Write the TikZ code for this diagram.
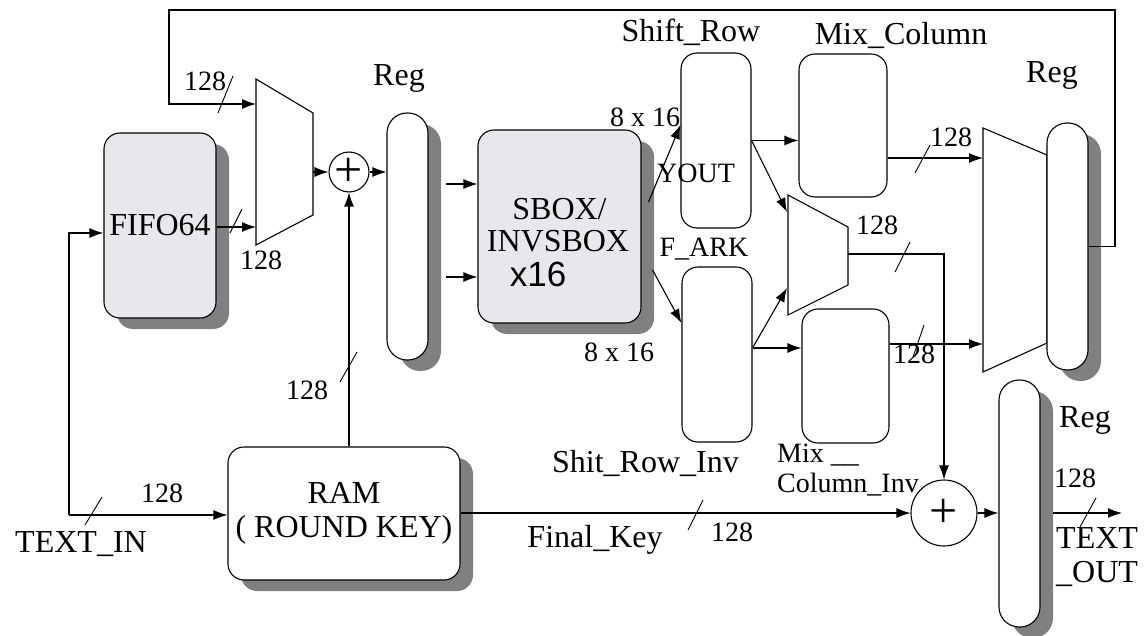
\documentclass[tikz,border=0pt]{standalone}
\usepackage{fontspec}
\setmainfont{Liberation Serif}
\newfontfamily\sboxsans{Liberation Sans}
\usepackage{tikz}
\usetikzlibrary{arrows.meta, calc, shadows}
\definecolor{boxgray}{RGB}{233,231,236}
\definecolor{shadegray}{RGB}{128,127,130}
\tikzset{
  unit/.style  = {rectangle, draw, line width=1.1pt, inner sep=0pt, rounded corners=16pt,
                  fill=white, font=\fontsize{32}{34}\selectfont},
  unitS/.style = {unit, drop shadow={shadow xshift=13pt, shadow yshift=-11pt,
                  fill=shadegray, opacity=1}},
  unitG/.style = {unitS, fill=boxgray},
  reg/.style   = {unitS, minimum width=41pt, minimum height=247pt, rounded corners=20pt},
  adder/.style = {circle, draw, line width=1.1pt, inner sep=0pt, fill=white,
                  font=\fontsize{50}{50}\selectfont},
  lbl/.style   = {inner sep=0pt, anchor=base, font=\fontsize{32}{34}\selectfont},
  num/.style   = {inner sep=0pt, anchor=base, font=\fontsize{28}{30}\selectfont},
  arrow/.style = {line width=1.1pt, -{Latex[length=14pt,width=10pt]}},
  wire/.style  = {line width=1.1pt},
  slash/.style = {line width=0.9pt},
}

\begin{document}
\begin{tikzpicture}[x=1pt, y=-1pt]
  \useasboundingbox (0,0) rectangle (1148,636);

  %% Muxes
  \draw[wire] (256,79) -- (313,113) -- (313,215) -- (256,245) -- cycle;
  \coordinate (mi-a) at (256,104);
  \coordinate (mi-b) at (256,227);
  \coordinate (mi-o) at (313,172);

  \draw[wire] (788,195) -- (848,227) -- (848,285) -- (788,315) -- cycle;
  \coordinate (mm-a) at (787,212);
  \coordinate (mm-b) at (787,288);
  \coordinate (mm-o) at (848,254);

  \draw[wire] (983,128) -- (1047,155) -- (1047,343) -- (983,372) -- cycle;
  \coordinate (mo-a) at (983,158);
  \coordinate (mo-b) at (983,344);

  %% Units
  \node[unitG, minimum width=112pt, minimum height=185pt] (fifo) at (160,225.5) {FIFO64};
  \node[reg] (regin) at (407.5,236.5) {};
  \node[unitG, minimum width=163pt, minimum height=193pt] (sbox) at (559.5,226.5) {};
  \node[unit, minimum width=70pt, minimum height=175pt] (shrow) at (716,140.5) {};
  \node[unit, minimum width=88pt, minimum height=143pt] (mixcol) at (843,125.5) {};
  \node[unit, minimum width=70pt, minimum height=175pt] (ishrow) at (717,354.5) {};
  \node[unit, minimum width=87pt, minimum height=134pt] (imixcol) at (845.5,376) {};
  \node[reg] (regout) at (1067.5,246.5) {};
  \node[unitS, minimum width=232pt, minimum height=133pt, align=center] (ram) at (344,513.5)
       {RAM\\( ROUND KEY)};
  \node[reg] (regfin) at (1019.5,503.5) {};

  \node[adder, minimum size=37pt] (xorin) at (349,172) {+};
  \node[adder, minimum size=66pt] (xorout) at (944,513) {+};

  %% Connectors
  \coordinate (fbr) at (1115,10);
  \coordinate (fbl) at (169,10);
  \coordinate (tin) at (69,515);
  \coordinate (tout) at (1122,513);
  \coordinate (ri-a) at ($(regin.east)+(17,-52.5)$);
  \coordinate (ri-b) at ($(regin.east)+(17,40.5)$);
  \coordinate (is-o) at ([yshift=6.5pt]ishrow.east);
  \coordinate (rf-o) at ($(regfin.east)+(12,9.5)$);

  \draw[arrow] (regout.east) -| (fbr) -- (fbl) |- (mi-a);
  \draw[arrow] (fifo.east |- mi-b) -- (mi-b);
  \draw[arrow] (tin) |- ([yshift=-7.5pt]fifo.west);
  \draw[arrow] (tin) -- (tin -| ram.west);
  \draw[arrow] (mi-o) -- (xorin);
  \draw[arrow] (xorin) -- (xorin -| regin.west);
  \draw[arrow] (xorin |- ram.north) -- (xorin);
  \draw[arrow] (ri-a) -- (ri-a -| sbox.west);
  \draw[arrow] (ri-b) -- (ri-b -| sbox.west);
  \draw[arrow] ($(sbox.east)+(7,-24.5)$) -- ([yshift=15.5pt]shrow.west);
  \draw[arrow] ($(sbox.east)+(11,43.5)$) -- ([yshift=31.5pt]ishrow.west);
  \draw[arrow] (shrow.east) -- (shrow.east -| mixcol.west);
  \draw[arrow] (shrow.east) -- (mm-a);
  \draw[arrow] (is-o) -- (mm-b);
  \draw[arrow] (is-o) -- (is-o -| imixcol.west);
  \draw[arrow] (mo-a -| mixcol.east) -- (mo-a);
  \draw[arrow] (mo-b -| imixcol.east) -- (mo-b);
  \draw[arrow] (mm-o) -| (xorout);
  \draw[arrow] (ram.east |- xorout) -- (xorout);
  \draw[arrow] (xorout) -- (xorout -| regfin.west);
  \draw[arrow] (rf-o) -- (tout);

  %% Bus width marks
  \foreach \ax/\ay/\bx/\by in {233/76/218/113, 242/209/230/233, 357/352/340/382,
      102/497/85/525, 930/145/915/173, 910/242/895/272, 924/325/913/357,
      703/500/688/530, 1096/498/1080/527}
    \draw[slash] (\ax,\ay) -- (\bx,\by);

  %% Labels
  \node[lbl] at (559.5,220) {SBOX/};
  \node[lbl] at (558,252) {INVSBOX};
  \node[lbl, font=\sboxsans\fontsize{35}{36}\selectfont] at (538,287) {x16};
  \node[num] at (205,91) {128};
  \node[num] at (261,270) {128};
  \node[lbl] at (399,86) {Reg};
  \node[num] at (645,127) {8 x 16};
  \node[num] at (696,183) {YOUT};
  \node[lbl] at (691,42) {Shift\_Row};
  \node[lbl] at (901,45) {Mix\_Column};
  \node[lbl] at (1052,83) {Reg};
  \node[num] at (704,257) {F\_ARK};
  \node[num] at (877,235) {128};
  \node[num] at (951,147) {128};
  \node[num] at (914,363) {128};
  \node[num] at (619,361) {8 x 16};
  \node[lbl] at (645.5,472) {Shit\_Row\_Inv};
  \node[num, anchor=base west] at (777,462) {Mix~\_\_};
  \node[num, anchor=base west] at (777,492) {Column\_Inv};
  \node[lbl] at (81,552) {TEXT\_IN};
  \node[lbl] at (595,547) {Final\_Key};
  \node[num] at (732,541) {128};
  \node[num] at (307,399) {128};
  \node[num] at (162,502) {128};
  \node[lbl] at (1085,427) {Reg};
  \node[num] at (1075,487) {128};
  \node[lbl, anchor=base west] at (1056,548) {TEXT};
  \node[lbl, anchor=base west] at (1056,582) {\_OUT};

\end{tikzpicture}
\end{document}
